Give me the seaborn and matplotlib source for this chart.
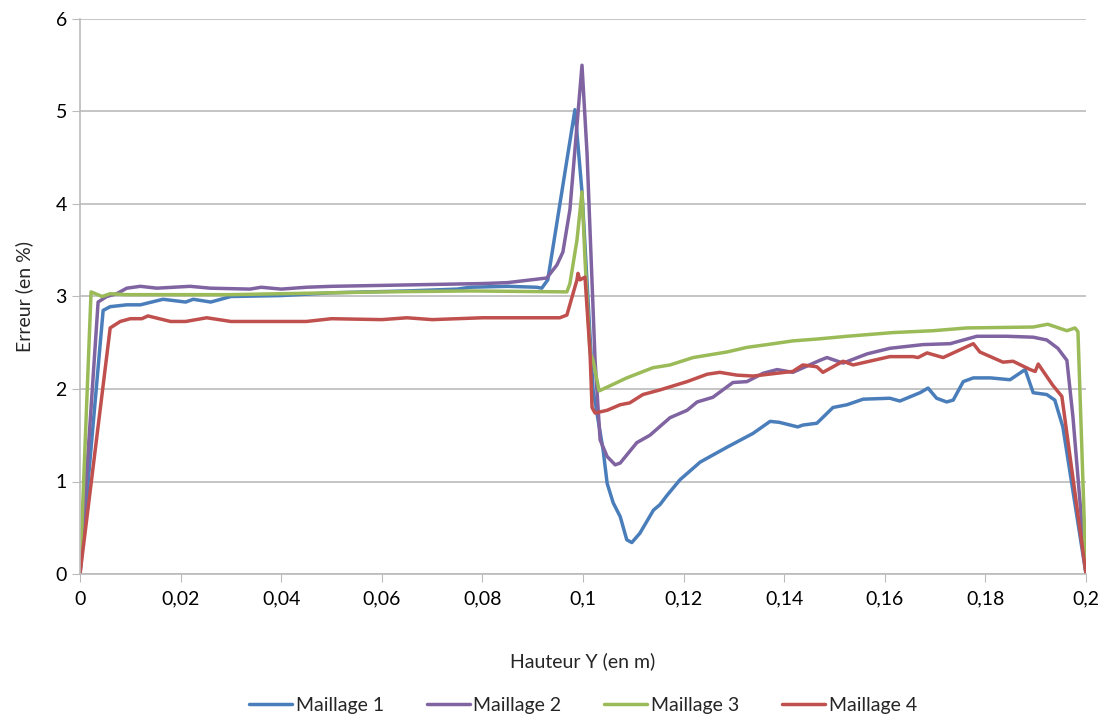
import pandas as pd
import seaborn as sns
import matplotlib.pyplot as plt
from matplotlib.ticker import FuncFormatter

# Maillage 1
x1 = [0, 0.0046, 0.006, 0.0093, 0.012, 0.0165, 0.021, 0.0225, 0.026, 0.030, 0.04, 0.05, 0.065, 0.075,
      0.0775, 0.085, 0.0908, 0.0918, 0.093, 0.0984, 0.0998, 0.102, 0.104, 0.1048, 0.106, 0.1074, 0.1087,
      0.1097, 0.1113, 0.114, 0.1153, 0.1167, 0.1193, 0.1233, 0.1286, 0.1338, 0.1372, 0.139, 0.1427,
      0.1437, 0.1465, 0.1497, 0.1525, 0.1557, 0.161, 0.163, 0.167, 0.1686, 0.1703, 0.1723, 0.1736,
      0.1756, 0.1776, 0.181, 0.1849, 0.1879, 0.1895, 0.1922, 0.1938, 0.1954, 0.2]
y1 = [0, 2.85, 2.89, 2.91, 2.91, 2.97, 2.94, 2.97, 2.94, 3.0, 3.01, 3.04, 3.06, 3.08,
      3.10, 3.11, 3.10, 3.09, 3.18, 5.02, 4.13, 1.99, 1.34, 0.98, 0.77, 0.62, 0.37,
      0.34, 0.44, 0.69, 0.75, 0.85, 1.02, 1.21, 1.37, 1.52, 1.65, 1.64, 1.59,
      1.61, 1.63, 1.80, 1.83, 1.89, 1.90, 1.87, 1.96, 2.01, 1.90, 1.86, 1.88,
      2.08, 2.12, 2.12, 2.10, 2.21, 1.96, 1.94, 1.88, 1.59, 0]

# Maillage 2
x2 = [0, 0.0036, 0.0053, 0.0073, 0.0093, 0.012, 0.0153, 0.0219, 0.0259, 0.0338, 0.036, 0.04, 0.045,
      0.05, 0.06, 0.07, 0.08, 0.085, 0.0928, 0.0948, 0.096, 0.0974, 0.0998, 0.1008, 0.1024, 0.1034,
      0.1048, 0.1064, 0.1074, 0.1107, 0.1133, 0.1173, 0.1207, 0.1227, 0.1258, 0.1298, 0.1326, 0.1358,
      0.1386, 0.1417, 0.1471, 0.1485, 0.1517, 0.1565, 0.161, 0.1676, 0.173, 0.1783, 0.1843, 0.1895,
      0.1922, 0.1944, 0.1962, 0.1974, 0.2]
y2 = [0, 2.94, 3.0, 3.03, 3.09, 3.11, 3.09, 3.11, 3.09, 3.08, 3.1, 3.08, 3.1,
      3.11, 3.12, 3.13, 3.14, 3.15, 3.20, 3.34, 3.48, 3.94, 5.50, 4.55, 2.31, 1.45,
      1.27, 1.18, 1.20, 1.42, 1.50, 1.69, 1.77, 1.86, 1.91, 2.07, 2.08, 2.17,
      2.21, 2.18, 2.31, 2.34, 2.28, 2.38, 2.44, 2.48, 2.49, 2.57, 2.57, 2.56,
      2.53, 2.44, 2.31, 1.70, 0]

# Maillage 3
x3 = [0, 0.0022, 0.0044, 0.006, 0.0093, 0.03, 0.04, 0.05, 0.06, 0.0775, 0.0968, 0.0974, 0.0988,
      0.0998, 0.1004, 0.1014, 0.102, 0.1032, 0.1048, 0.1087, 0.1139, 0.1173, 0.1219, 0.1286, 0.1326,
      0.1366, 0.1417, 0.1465, 0.1525, 0.1616, 0.1696, 0.1763, 0.1895, 0.1924, 0.1962, 0.1978,
      0.1984, 0.2]
y3 = [0, 3.05, 3.0, 3.03, 3.02, 3.02, 3.03, 3.04, 3.05, 3.06, 3.05, 3.14, 3.61,
      4.13, 3.40, 2.39, 2.31, 1.98, 2.02, 2.12, 2.23, 2.26, 2.34, 2.40, 2.45,
      2.48, 2.52, 2.54, 2.57, 2.61, 2.63, 2.66, 2.67, 2.70, 2.63, 2.66,
      2.62, 0]

# Maillage 4
x4 = [0, 0.006, 0.008, 0.01, 0.0123, 0.0135, 0.018, 0.021, 0.0252, 0.030, 0.045, 0.05, 0.06, 0.065,
      0.07, 0.08, 0.0954, 0.0968, 0.0988, 0.099, 0.0994, 0.1004, 0.1014, 0.1018, 0.1024, 0.1048,
      0.1074, 0.1093, 0.1119, 0.1153, 0.1207, 0.1247, 0.1272, 0.1306, 0.1338, 0.1417, 0.1437, 0.1465,
      0.1477, 0.1517, 0.1537, 0.161, 0.1656, 0.1666, 0.1684, 0.1716, 0.1776, 0.1789, 0.1835, 0.1855,
      0.1889, 0.1899, 0.1905, 0.1934, 0.1952, 0.2]
y4 = [0, 2.66, 2.73, 2.76, 2.76, 2.79, 2.73, 2.73, 2.77, 2.73, 2.73, 2.76, 2.75, 2.77,
      2.75, 2.77, 2.77, 2.80, 3.18, 3.25, 3.18, 3.21, 2.39, 1.80, 1.74, 1.77,
      1.83, 1.85, 1.94, 1.99, 2.08, 2.16, 2.18, 2.15, 2.14, 2.19, 2.26, 2.24,
      2.18, 2.30, 2.26, 2.35, 2.35, 2.34, 2.39, 2.34, 2.49, 2.40, 2.29, 2.30,
      2.21, 2.19, 2.27, 2.04, 1.92, 0]

names = ['Maillage 1', 'Maillage 2', 'Maillage 3', 'Maillage 4']
colors = ['#4A7EBB', '#8064A2', '#9BBB59', '#C0504D']

# long table for seaborn
frames = []
for name, xs, ys in zip(names, [x1, x2, x3, x4], [y1, y2, y3, y4]):
    frames.append(pd.DataFrame({'x': xs, 'y': ys, 'serie': name, 'ordre': range(len(xs))}))
df = pd.concat(frames, ignore_index=True)

sns.set_style('white')
plt.rcParams['font.family'] = ['Lato', 'DejaVu Sans']

fig = plt.figure(figsize=(11.07, 7.23), dpi=100)
ax = fig.add_axes([80 / 1107, 149 / 723, 1006 / 1107, 555 / 723])

sns.lineplot(data=df, x='x', y='y', hue='serie', palette=colors, sort=False,
             linewidth=2.5, ax=ax, legend=True)

ax.set_xlim(0, 0.2)
ax.set_ylim(0, 6)
ax.set_xticks([i * 0.02 for i in range(11)])
ax.set_yticks(range(7))
fmt = FuncFormatter(lambda v, p: f'{round(v, 2):g}'.replace('.', ','))
ax.xaxis.set_major_formatter(fmt)
ax.yaxis.set_major_formatter(fmt)

ax.yaxis.grid(True, color='#BBBBBB', linewidth=1.2)
ax.xaxis.grid(False)
for s in ['top', 'right']:
    ax.spines[s].set_visible(False)
for s in ['left', 'bottom']:
    ax.spines[s].set_color('#BBBBBB')
    ax.spines[s].set_linewidth(1.2)
ax.tick_params(axis='both', which='both', length=6, color='#BBBBBB', labelsize=14,
               labelcolor='black', direction='out', bottom=True, left=True)
ax.tick_params(axis='x', pad=6)

ax.set_xlabel('Hauteur Y (en m)', fontsize=14, labelpad=32)
ax.set_ylabel('Erreur (en %)', fontsize=14, labelpad=16)

ax.legend(handles=ax.get_legend().legend_handles, labels=names, loc='upper center',
          bbox_to_anchor=(0.5, -0.19), ncol=4, frameon=False, fontsize=14,
          handlelength=2.2, handletextpad=0.2, columnspacing=2.2)

fig.savefig('out.png', dpi=100)
